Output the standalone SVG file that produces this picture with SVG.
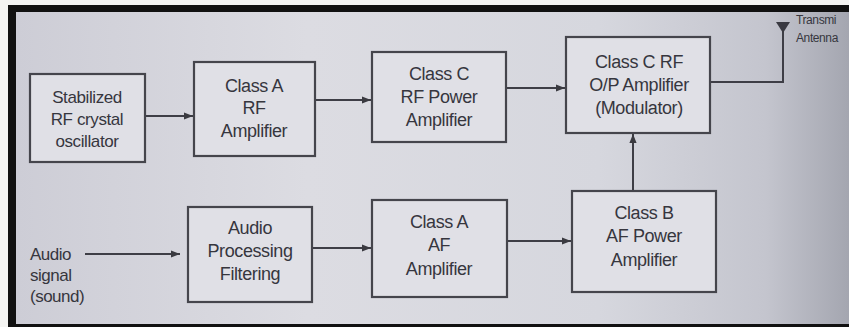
<svg xmlns="http://www.w3.org/2000/svg" width="849" height="327" viewBox="0 0 849 327">
<defs>
<linearGradient id="bg" x1="0" y1="0" x2="1" y2="0">
<stop offset="0" stop-color="#cdcdd6"/>
<stop offset="0.35" stop-color="#dcdce2"/>
<stop offset="0.7" stop-color="#d6d7de"/>
<stop offset="0.9" stop-color="#c4c5ce"/>
<stop offset="1" stop-color="#a4a6b0"/>
</linearGradient>
<marker id="ah" viewBox="0 0 10 10" refX="10" refY="5" markerWidth="9" markerHeight="9" markerUnits="userSpaceOnUse" orient="auto">
<path d="M0,1 L10,5 L0,9 Z" fill="#3a3a40"/>
</marker>
<style>
.box{fill:#e0e0e6;stroke:#45454c;stroke-width:2.2}
.t{font-family:"Liberation Sans",Arial,sans-serif;font-size:18px;fill:#36363e;text-anchor:middle;letter-spacing:-0.4px}
.ts{font-size:17px}
.tl{font-family:"Liberation Sans",Arial,sans-serif;font-size:17px;fill:#36363e;letter-spacing:-0.5px}
.ta{font-family:"Liberation Sans",Arial,sans-serif;font-size:12px;fill:#36363e;letter-spacing:-0.4px}
.c{fill:none;stroke:#3e3e46;stroke-width:2}
</style>
</defs>
<rect x="0" y="0" width="849" height="327" fill="#f4f4f2"/>
<rect x="8" y="5" width="841" height="322" fill="#111"/>
<rect x="16" y="12" width="833" height="312" fill="url(#bg)"/>

<g id="connectors">
<path class="c" d="M145,116 L193,116" marker-end="url(#ah)"/>
<path class="c" d="M316,100 L371,100" marker-end="url(#ah)"/>
<path class="c" d="M506,88 L565,88" marker-end="url(#ah)"/>
<path class="c" d="M710,82 L783,82 L783,28"/>
<path class="c" d="M633,191 L633,134" marker-end="url(#ah)"/>
<path class="c" d="M85,254 L180,254" marker-end="url(#ah)"/>
<path class="c" d="M312,248 L371,248" marker-end="url(#ah)"/>
<path class="c" d="M507,241 L571,241" marker-end="url(#ah)"/>
</g>

<g id="antenna">
<path d="M776,22 L790,22 L783,33 Z" fill="#3a3a42"/>
<text class="ta" x="796" y="24">Transmi</text>
<text class="ta" x="796" y="42">Antenna</text>
</g>

<g id="oscillator">
<rect class="box" x="30" y="74" width="115" height="88"/>
<text class="t ts" x="87" y="103">Stabilized</text>
<text class="t ts" x="87" y="125">RF crystal</text>
<text class="t ts" x="87" y="147">oscillator</text>
</g>

<g id="classA-rf">
<rect class="box" x="194" y="62" width="121" height="94"/>
<text class="t" x="254" y="92">Class A</text>
<text class="t" x="254" y="114">RF</text>
<text class="t" x="254" y="137">Amplifier</text>
</g>

<g id="classC-rf-power">
<rect class="box" x="372" y="52" width="134" height="90"/>
<text class="t" x="439" y="80">Class C</text>
<text class="t" x="439" y="103">RF Power</text>
<text class="t" x="439" y="126">Amplifier</text>
</g>

<g id="classC-op">
<rect class="box" x="566" y="37" width="144" height="96"/>
<text class="t" x="639" y="68">Class C RF</text>
<text class="t" x="639" y="91">O/P Amplifier</text>
<text class="t" x="639" y="114">(Modulator)</text>
</g>

<g id="audio-signal">
<text class="tl" x="30" y="260">Audio</text>
<text class="tl" x="30" y="281">signal</text>
<text class="tl" x="30" y="302">(sound)</text>
</g>

<g id="audio-processing">
<rect class="box" x="188" y="207" width="124" height="95"/>
<text class="t" x="250" y="234">Audio</text>
<text class="t" x="250" y="257">Processing</text>
<text class="t" x="250" y="280">Filtering</text>
</g>

<g id="classA-af">
<rect class="box" x="372" y="200" width="135" height="97"/>
<text class="t" x="439" y="228">Class A</text>
<text class="t" x="439" y="251">AF</text>
<text class="t" x="439" y="275">Amplifier</text>
</g>

<g id="classB-af">
<rect class="box" x="572" y="191" width="144" height="101"/>
<text class="t" x="644" y="219">Class B</text>
<text class="t" x="644" y="242">AF Power</text>
<text class="t" x="644" y="266">Amplifier</text>
</g>
</svg>
